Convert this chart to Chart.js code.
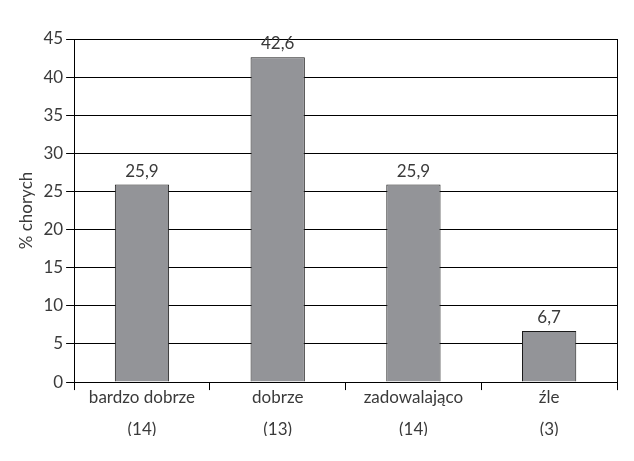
<!DOCTYPE html>
<html>
<head>
<meta charset="utf-8">
<script src="https://cdn.jsdelivr.net/npm/chart.js@4.4.0/dist/chart.umd.min.js"></script>
<style>
  html,body{margin:0;padding:0;background:#fff;}
  #wrap{width:634px;height:461px;position:relative;}
</style>
</head>
<body>
<div id="wrap"><canvas id="c"></canvas></div>
<script>
// chart data
const categories = [['bardzo dobrze','(14)'],['dobrze','(13)'],['zadowalająco','(14)'],['źle','(3)']];
const percents = [25.9, 42.6, 25.9, 6.7];
const yTicks = [0,5,10,15,20,25,30,35,40,45];

const FONT = 'Lato, "Open Sans", sans-serif';
const TXT = '#3a3a3a';

// value labels above bars + right frame line
const extras = {
  id:'extras',
  afterDatasetsDraw(chart){
    const ctx = chart.ctx, a = chart.chartArea;
    ctx.save();
    ctx.strokeStyle = '#000'; ctx.lineWidth = 1;
    ctx.beginPath();
    ctx.moveTo(Math.round(a.right)+0.5, a.top);
    ctx.lineTo(Math.round(a.right)+0.5, a.bottom+8);
    ctx.stroke();
    ctx.font = '17px ' + FONT;
    ctx.fillStyle = TXT;
    ctx.textAlign = 'center'; ctx.textBaseline = 'bottom';
    chart.getDatasetMeta(0).data.forEach((bar,i)=>{
      ctx.fillText(percents[i].toFixed(1).replace('.',','), bar.x, bar.y - 5);
    });
    ctx.restore();
  }
};

new Chart(document.getElementById('c'), {
  type:'bar',
  data:{
    labels:categories,
    datasets:[{
      data:percents,
      backgroundColor:'#939498',
      borderColor:'#1a1a1a',
      borderWidth:1,
      barPercentage:0.4,
      categoryPercentage:1
    }]
  },
  options:{
    responsive:true,
    maintainAspectRatio:false,
    animation:false,
    layout:{padding:{top:39,right:17,bottom:25,left:16}},
    plugins:{legend:{display:false},tooltip:{enabled:false}},
    scales:{
      x:{
        offset:true,
        grid:{offset:true,drawOnChartArea:false,color:'#000',tickLength:8},
        border:{color:'#000'},
        ticks:{color:TXT,font:{family:FONT,size:17,lineHeight:1.88},padding:-9,maxRotation:0}
      },
      y:{
        min:0,max:45,
        afterBuildTicks(axis){ axis.ticks = yTicks.map(v=>({value:v})); },
        grid:{color:'#000',tickLength:8},
        border:{color:'#000'},
        ticks:{color:TXT,font:{family:FONT,size:17},padding:3},
        title:{display:true,text:'% chorych',color:TXT,font:{family:FONT,size:17},padding:{top:0,bottom:4}}
      }
    }
  },
  plugins:[extras]
});
</script>
</body>
</html>
